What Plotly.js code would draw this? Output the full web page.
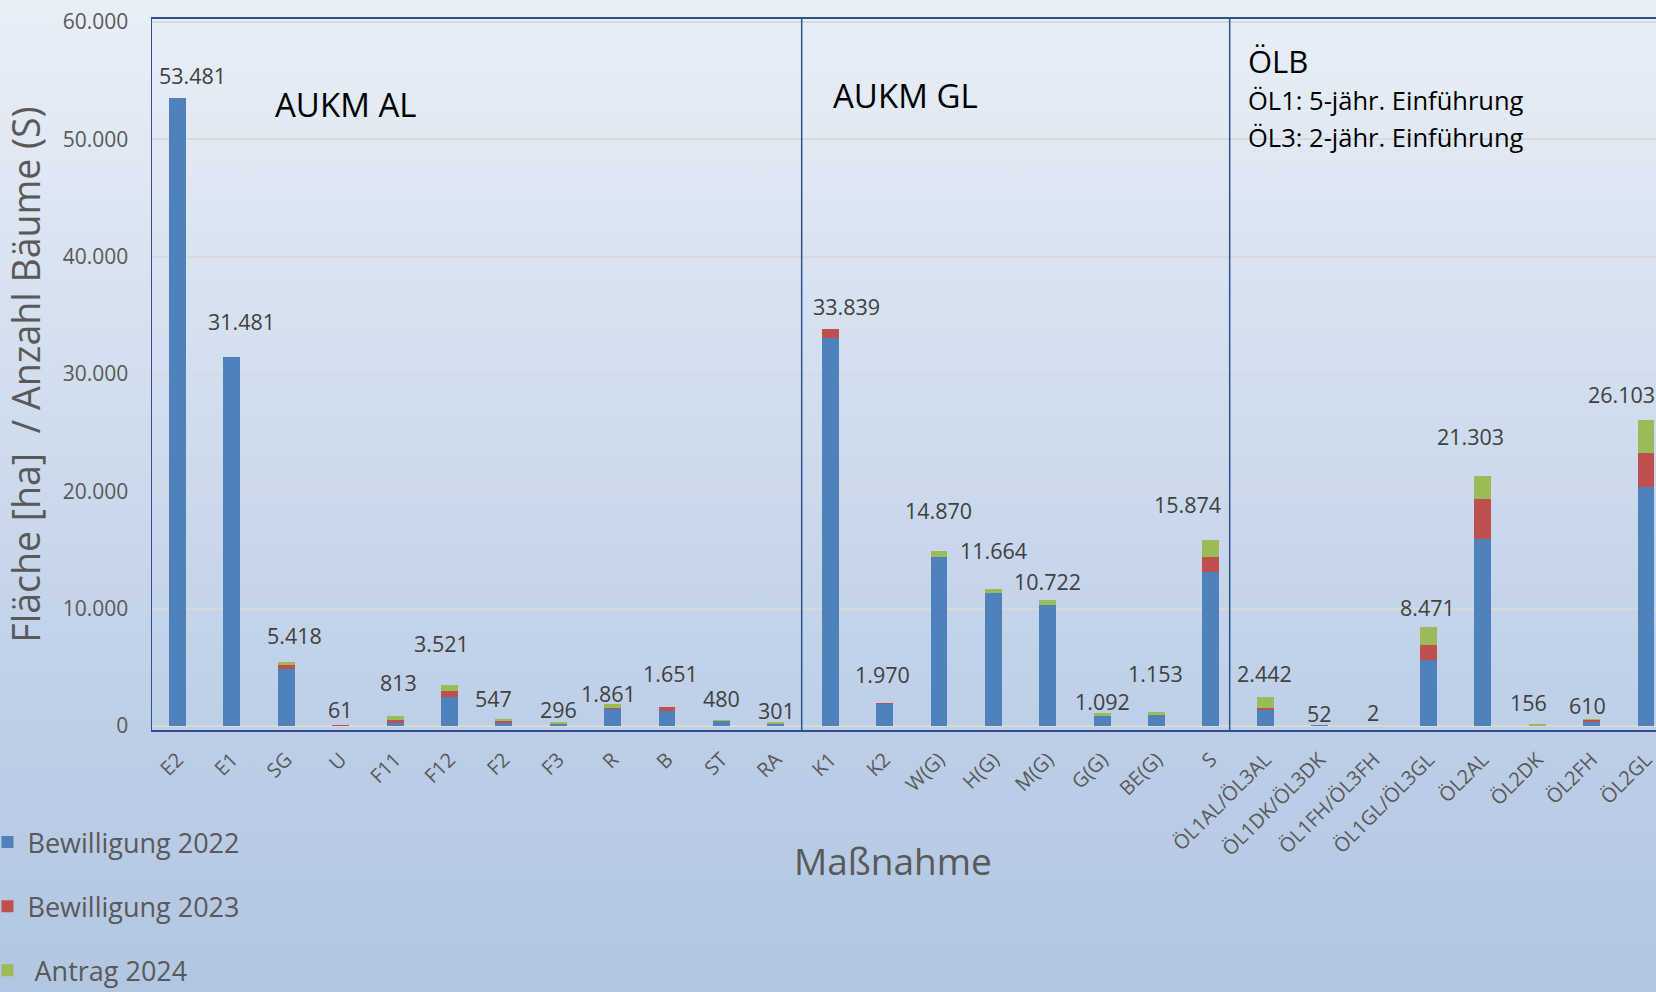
<!DOCTYPE html>
<html>
<head>
<meta charset="utf-8">
<script src="https://cdn.plot.ly/plotly-3.0.1.min.js"></script>
<style>
  html, body { margin: 0; padding: 0; overflow: hidden; }
  body { width: 1656px; height: 992px;
         background: linear-gradient(to bottom, #e9eff7 0%, #d4e0ef 35%, #bfd0e8 70%, #b2c6e2 100%); }
  #chart { width: 1656px; height: 992px; }
</style>
</head>
<body>
<div id="chart"></div>
<script>
// ---- Data ----
const categories = ['E2','E1','SG','U','F11','F12','F2','F3','R','B','ST','RA',
  'K1','K2','W(G)','H(G)','M(G)','G(G)','BE(G)','S',
  'ÖL1AL/ÖL3AL','ÖL1DK/ÖL3DK','ÖL1FH/ÖL3FH','ÖL1GL/ÖL3GL','ÖL2AL','ÖL2DK','ÖL2FH','ÖL2GL'];
const bewilligung2022 = [53481,31481,4880,10,255,2470,260,200,1400,1310,420,180,
  33020,1850,14400,11330,10280,860,937,13150,
  1337,52,2,5620,15960,0,350,20390];
const bewilligung2023 = [0,0,300,45,230,511,130,0,90,341,40,21,
  819,100,0,0,0,0,0,1245,
  170,0,0,1250,3350,0,150,2840];
const antrag2024 = [0,0,238,6,328,540,157,96,371,0,20,100,
  0,20,470,334,442,232,216,1479,
  935,0,0,1601,1993,156,110,2873];
const yTickValues = [0,10000,20000,30000,40000,50000,60000];
const seriesNames = ['Bewilligung 2022','Bewilligung 2023',' Antrag 2024'];

// label placement tweaks (pixels) to mimic the manually placed labels
const labelDx = [15,10,8,0,3,-8,-10,0,-4,3,0,1,16,-2,0,0,0,0,-1,-23,-1,0,-1,-1,-12,-9,-4,-25];
const labelDy = [23,35,27,16,34,41,21,13,11,33,22,12,22,28,41,39,19,12,39,35,24,12,13,19,39,22,13,25];

const totals = categories.map((c,i)=>bewilligung2022[i]+bewilligung2023[i]+antrag2024[i]);
function fmt(v){ return String(v).replace(/\B(?=(\d{3})+(?!\d))/g,'.'); }

const FONT = 'Open Sans, Noto Sans, sans-serif';
const colors = ['#4f81bd','#c0504d','#9bbb59'];
const series = [bewilligung2022, bewilligung2023, antrag2024];

const traces = series.map((vals,k)=>({
  type:'bar', x:categories, y:vals, name:seriesNames[k],
  legendgroup:'g'+k,
  marker:{color:colors[k], line:{width:0}},
  hoverinfo:'x+y+name'
}));

const annotations = categories.map((c,i)=>({
  x:i, y:totals[i], xref:'x', yref:'y', text:fmt(totals[i]),
  showarrow:false, xanchor:'center', yanchor:'middle',
  xshift:labelDx[i], yshift:labelDy[i],
  font:{family:FONT, size:21.5, color:'#404040'}
}));

const plotLeft = 152, plotW = 1656 - 152;
const plotTop = 19, plotH = 711;
function paperY(px){ return (plotTop + plotH - px) / plotH; }
function paperX(px){ return (px - plotLeft) / plotW; }

annotations.push(
  {x:3.08, y:52960, xref:'x', yref:'y', text:'AUKM AL', showarrow:false,
   xanchor:'center', yanchor:'middle', font:{family:FONT, size:33, color:'#000'}},
  {x:13.376, y:53714, xref:'x', yref:'y', text:'AUKM GL', showarrow:false,
   xanchor:'center', yanchor:'middle', font:{family:FONT, size:33, color:'#000'}},
  {x:19.645, y:56700, xref:'x', yref:'y', text:'ÖLB', showarrow:false,
   xanchor:'left', yanchor:'middle', font:{family:FONT, size:31, color:'#000'}},
  {x:19.645, y:53377, xref:'x', yref:'y', text:'ÖL1: 5-jähr. Einführung', showarrow:false,
   xanchor:'left', yanchor:'middle', font:{family:FONT, size:25.5, color:'#000'}},
  {x:19.645, y:50225, xref:'x', yref:'y', text:'ÖL3: 2-jähr. Einführung', showarrow:false,
   xanchor:'left', yanchor:'middle', font:{family:FONT, size:25.5, color:'#000'}},
  {x:paperX(893), y:paperY(861), xref:'paper', yref:'paper', text:'Maßnahme', showarrow:false,
   xanchor:'center', yanchor:'middle', font:{family:FONT, size:37, color:'#595959'}}
);

const shapes = [11.476, 19.345].map(xv=>({
  type:'line', xref:'x', yref:'paper', x0:xv, x1:xv, y0:0, y1:1,
  line:{color:'#2f528f', width:1.5}
}));

const layout = {
  width:1656, height:992,
  margin:{l:plotLeft, r:0, t:plotTop, b:992-plotTop-plotH, autoexpand:false},
  paper_bgcolor:'rgba(0,0,0,0)', plot_bgcolor:'rgba(0,0,0,0)',
  barmode:'stack', bargap:0.69,
  separators:',.',
  font:{family:FONT, color:'#595959'},
  showlegend:true,
  legend:{xref:'paper', yref:'paper', x:paperX(-12.5), y:paperY(818),
    xanchor:'left', yanchor:'top', orientation:'v', traceorder:'grouped',
    tracegroupgap:26, bgcolor:'rgba(0,0,0,0)',
    font:{family:FONT, size:27, color:'#595959'}},
  xaxis:{type:'category', range:[-0.469, 27.183], fixedrange:true, automargin:false,
    tickangle:-45, ticks:'', ticklabelstandoff:8,
    tickfont:{family:FONT, size:20, color:'#595959'},
    showline:true, linecolor:'#2f528f', linewidth:2, mirror:true,
    showgrid:false, zeroline:false},
  yaxis:{range:[-350, 60250], tickvals:yTickValues, tickformat:',d', automargin:false,
    ticks:'', ticklabelstandoff:18,
    tickfont:{family:FONT, size:21, color:'#595959'},
    showgrid:true, gridcolor:'#d9d9d9', gridwidth:2,
    zeroline:true, zerolinecolor:'#d9d9d9', zerolinewidth:2,
    showline:true, linecolor:'#2f528f', linewidth:1.5,
    title:{text:'Fläche [ha]\u00a0\u00a0/ Anzahl Bäume (S)', standoff:10,
      font:{family:FONT, size:37.5, color:'#595959'}}},
  annotations:annotations,
  shapes:shapes
};

Plotly.newPlot('chart', traces, layout, {displayModeBar:false, staticPlot:true});
</script>
</body>
</html>
